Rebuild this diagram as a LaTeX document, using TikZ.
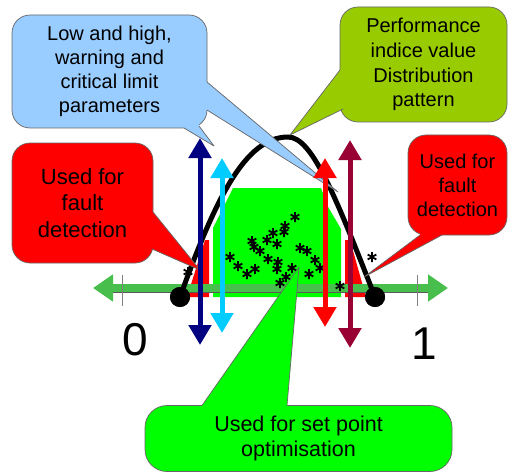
\documentclass[tikz,border=0pt]{standalone}
\usepackage{fontspec}
\setmainfont{Liberation Sans}
\usetikzlibrary{arrows.meta}
\definecolor{blueC}{HTML}{99CCFF}
\definecolor{oliveC}{HTML}{99CC00}
\definecolor{redC}{HTML}{FF0000}
\definecolor{greenB}{HTML}{00FF00}
\definecolor{axisG}{HTML}{48BE4C}
\definecolor{navyC}{HTML}{000080}
\definecolor{cyanC}{HTML}{00CCFF}
\definecolor{dredC}{HTML}{990033}
\begin{document}
\begin{tikzpicture}[x=1pt,y=-1pt,
  bubble/.style={rounded corners=18pt, draw=black!60, line width=0.7pt, align=center, inner sep=0pt},
  tailline/.style={draw=black!60, line width=0.7pt, line join=round},
  varrow/.style={line width=5pt, {Triangle[width=22pt,length=20pt]}-{Triangle[width=22pt,length=20pt]}},
  astk/.style={line width=1.8pt, black},
  dot/.style={circle, fill=black, minimum size=20pt, inner sep=0pt}]
\fill[white] (0,0) rectangle (510,473);
\useasboundingbox (0,0) rectangle (510,473);

% green region and red patches
\fill[greenB] (233,188) -- (321,188) -- (327,205) -- (341,229) -- (341,297) -- (213,297) -- (213,228) -- cycle;
\fill[redC] (187,297) -- (205,240) -- (209,240) -- (209,297) -- cycle;
\fill[redC] (345,240) -- (350,240) -- (366,297) -- (345,297) -- cycle;

% axis
\coordinate (axL) at (93,288);
\coordinate (axR) at (448,288);
\draw[axisG, line width=8pt, {Triangle[width=26pt,length=20pt]}-{Triangle[width=26pt,length=20pt]}] (axL) -- (axR);
\draw[black!65, line width=0.8pt] (113,292.3) -- (428,292.3);
\draw[black!50, line width=1pt] (122,275) -- (122,306);
\draw[black!50, line width=1pt] (417,275) -- (417,306);

% stars
\foreach \sx/\sy in {295/217,285/226,284/232,273/233,267/240,277/244,252/241,254/247,260/251,
  230/257,238/266,247/274,255/269,268/259,278/262,277/269,292/268,286/277,280/283,
  300/248,307/251,315/260,309/274,320/268,340/286,372/257,188/272}
  {\draw[astk, shift={(\sx,\sy)}] (90:5) -- (270:5) (30:5) -- (210:5) (150:5) -- (330:5);}

% bell curve
\node[dot] (d0) at (180,297) {};
\node[dot] (d1) at (375,297) {};
\coordinate (peak) at (288,137);
\draw[line width=5pt, black] (d0.center) .. controls (215,200) and (245,137) .. (peak) .. controls (312,137) and (335,195) .. (d1.center);
\node[dot] at (d0) {};
\node[dot] at (d1) {};

% labels 0 and 1
\node[font=\fontsize{46}{46}\selectfont, inner sep=0pt] (zero) at (135,340) {0};
\node[font=\fontsize{46}{46}\selectfont, inner sep=0pt] (one) at (424,344) {1};

% blue callout
\node[bubble, fill=blueC, minimum width=195pt, minimum height=113pt,
  font=\fontsize{20}{24}\selectfont] (low) at (109.5,71.5) {Low and high,\\warning and\\critical limit\\parameters};
\coordinate (lowtipA) at (214,146);
\coordinate (lowtipB) at (338,192);
\fill[blueC] (184,121) -- (184,128) -- (lowtipA) -- (199,126) -- (199,120) -- cycle;
\draw[tailline] (184,128) -- (lowtipA) -- (199,126);
\fill[blueC] (200,82) -- (207,82) -- (lowtipB) -- (207,110) -- (200,110) -- cycle;
\draw[tailline] (207,82) -- (lowtipB) -- (207,110);

% olive callout
\node[bubble, fill=oliveC, minimum width=167pt, minimum height=115pt,
  font=\fontsize{20}{24.7}\selectfont] (perf) at (423.5,64.5) {Performance\\indice value\\Distribution\\pattern};
\coordinate (perftip) at (290,135);
\fill[oliveC] (347,70) -- (340,70) -- (perftip) -- (343,109) -- (349,106) -- cycle;
\draw[tailline] (340,70) -- (perftip) -- (343,109);

% left red callout
\node[bubble, fill=redC, minimum width=141pt, minimum height=120pt,
  font=\fontsize{22}{26.5}\selectfont] (fl) at (82.5,203) {Used for\\fault\\detection};
\coordinate (fltip) at (200,270);
\fill[redC] (146,212) -- (153,212) -- (fltip) -- (152,249) -- (146,249) -- cycle;
\draw[tailline] (153,212) -- (fltip) -- (152,249);

% right red callout
\node[bubble, fill=redC, minimum width=99pt, minimum height=100pt,
  font=\fontsize{20}{24}\selectfont] (fr) at (457.5,185) {Used for\\fault\\detection};
\coordinate (frtip) at (364,277);
\fill[redC] (420,229) -- (420,235) -- (frtip) -- (442,235) -- (442,229) -- cycle;
\draw[tailline] (420,235) -- (frtip) -- (442,235);

% bottom green callout
\node[bubble, rounded corners=22pt, fill=greenB, minimum width=307pt, minimum height=66pt,
  font=\fontsize{21.5}{25}\selectfont] (setp) at (298.5,438.5) {Used for set point\\optimisation};
\coordinate (setptip) at (299,267);
\fill[greenB] (202,412) -- (202,405.5) -- (setptip) -- (287,405.5) -- (287,412) -- cycle;
\draw[tailline] (202,405.5) -- (setptip) -- (287,405.5);

% vertical limit arrows
\coordinate (navyT) at (200,138); \coordinate (navyB) at (200,345);
\coordinate (cyanT) at (222,158); \coordinate (cyanB) at (222,333);
\coordinate (redT) at (325,158); \coordinate (redB) at (325,327);
\coordinate (dredT) at (350,140); \coordinate (dredB) at (350,348);
\draw[varrow, navyC] (navyT) -- (navyB);
\draw[varrow, cyanC] (cyanT) -- (cyanB);
\draw[varrow, redC] (redT) -- (redB);
\draw[varrow, dredC] (dredT) -- (dredB);
\end{tikzpicture}
\end{document}
